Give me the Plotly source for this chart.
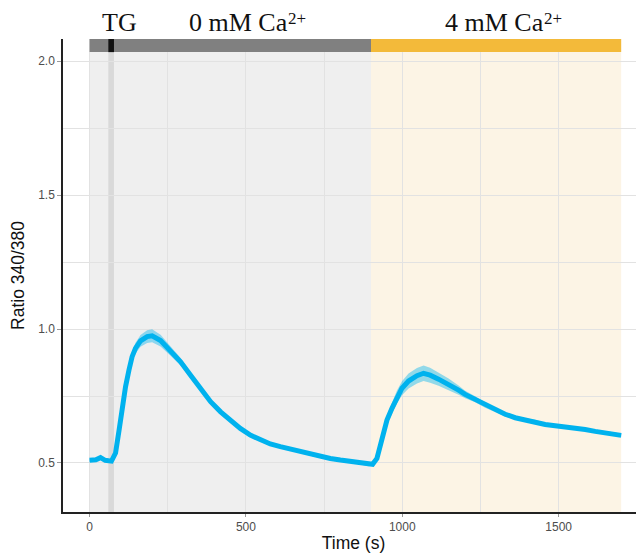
import plotly.graph_objects as go

# ---- data ----
time_s = [0, 20, 35, 50, 70, 83, 94, 104, 115, 126, 136, 147, 163, 184, 200, 227,
          259, 291, 323, 355, 387, 419, 450, 482, 514, 546, 578, 610, 642, 674, 706,
          738, 770, 802, 834, 866, 891, 905, 919, 930, 940, 951, 967, 983, 999, 1020,
          1047, 1068, 1089, 1116, 1148, 1180, 1201, 1233, 1265, 1297, 1329, 1361, 1393,
          1425, 1457, 1489, 1521, 1553, 1585, 1617, 1649, 1681, 1700]
ratio = [0.510, 0.512, 0.520, 0.510, 0.507, 0.537, 0.620, 0.710, 0.785, 0.847, 0.897,
         0.929, 0.956, 0.972, 0.975, 0.957, 0.918, 0.878, 0.828, 0.779, 0.729, 0.691,
         0.660, 0.629, 0.604, 0.585, 0.571, 0.561, 0.552, 0.542, 0.532, 0.524, 0.517,
         0.511, 0.505, 0.499, 0.493, 0.495, 0.517, 0.567, 0.617, 0.660, 0.704, 0.747,
         0.779, 0.806, 0.826, 0.835, 0.828, 0.813, 0.794, 0.772, 0.756, 0.738, 0.716,
         0.698, 0.682, 0.669, 0.660, 0.654, 0.644, 0.639, 0.635, 0.630, 0.625, 0.618,
         0.614, 0.608, 0.603]
sem = [0.005, 0.005, 0.005, 0.005, 0.005, 0.006, 0.008, 0.010, 0.012, 0.015, 0.018,
       0.020, 0.022, 0.024, 0.024, 0.022, 0.018, 0.014, 0.011, 0.009, 0.008, 0.007,
       0.006, 0.006, 0.006, 0.005, 0.005, 0.005, 0.005, 0.005, 0.005, 0.005, 0.005,
       0.005, 0.005, 0.005, 0.005, 0.005, 0.006, 0.010, 0.014, 0.018, 0.021, 0.024,
       0.026, 0.028, 0.029, 0.029, 0.028, 0.025, 0.021, 0.017, 0.014, 0.011, 0.010,
       0.009, 0.008, 0.008, 0.007, 0.007, 0.006, 0.006, 0.006, 0.006, 0.006, 0.006,
       0.006, 0.006, 0.006]

phase_labels = ["0 mM Ca", "4 mM Ca"]
phase_sup = ["2+", "2+"]
phase_start = [0, 900]
phase_end = [900, 1700]
phase_label_end_x = [636, 1454]   # where "Ca" ends and the superscript starts
tg_start, tg_end, tg_label_x = 60, 78, 96

x_ticks = [0, 500, 1000, 1500]
y_ticks = [0.5, 1.0, 1.5, 2.0]

LINE = "#00B2EE"
upper = [r + s for r, s in zip(ratio, sem)]
lower = [r - s for r, s in zip(ratio, sem)]

fig = go.Figure()
fig.add_trace(go.Scatter(
    x=time_s + time_s[::-1], y=upper + lower[::-1], fill="toself",
    fillcolor="rgba(0,178,238,0.42)", line=dict(width=0), hoverinfo="skip",
    showlegend=False))
fig.add_trace(go.Scatter(x=time_s, y=ratio, mode="lines",
                         line=dict(color=LINE, width=5), showlegend=False))

shade_cols = ["#EFEFEF", "#FCF4E5"]
bar_cols = ["#808080", "#F3BA3A"]
for s, e, sc, bc in zip(phase_start, phase_end, shade_cols, bar_cols):
    fig.add_shape(type="rect", xref="x", yref="paper", x0=s, x1=e, y0=0, y1=1,
                  fillcolor=sc, line=dict(width=0), layer="below")
    fig.add_shape(type="rect", xref="x", yref="y", x0=s, x1=e, y0=2.034, y1=2.083,
                  fillcolor=bc, line=dict(width=0), layer="above")
fig.add_shape(type="rect", xref="x", yref="paper", x0=tg_start, x1=tg_end, y0=0, y1=1,
              fillcolor="rgba(0,0,0,0.09)", line=dict(width=0), layer="below")
fig.add_shape(type="rect", xref="x", yref="y", x0=tg_start, x1=tg_end, y0=2.034, y1=2.083,
              fillcolor="#111111", line=dict(width=0), layer="above")

serif = dict(family="Liberation Serif", size=26, color="#111111")
serif_sup = dict(family="Liberation Serif", size=17, color="#111111")
fig.add_annotation(x=tg_label_x, y=1.0, xref="x", yref="paper", yanchor="bottom",
                   yshift=0, text="TG", showarrow=False, font=serif)
for lx, lab, sup in zip(phase_label_end_x, phase_labels, phase_sup):
    fig.add_annotation(x=lx, y=1.0, xref="x", yref="paper", yanchor="bottom",
                       xanchor="right", xshift=2, yshift=0, text=lab,
                       showarrow=False, font=serif)
    fig.add_annotation(x=lx, y=1.0, xref="x", yref="paper", yanchor="bottom",
                       xanchor="left", xshift=-2, yshift=9, text=sup,
                       showarrow=False, font=serif_sup)

grid = "#E2E2E2"
fig.update_xaxes(range=[-85, 1773], tickvals=x_ticks, showgrid=True, gridcolor=grid,
                 gridwidth=1, minor=dict(dtick=250, tick0=0, showgrid=True,
                                          gridcolor=grid, gridwidth=1),
                 showline=True, linecolor="#222222", linewidth=1.5,
                 ticks="outside", ticklen=3, tickcolor="#999999",
                 tickfont=dict(family="Liberation Sans", size=12, color="#4D4D4D"),
                 title=dict(text="Time (s)", standoff=4,
                            font=dict(family="Liberation Sans", size=17.5, color="#111111")),
                 zeroline=False, automargin=False)
fig.update_yaxes(range=[0.317, 2.083], tickvals=y_ticks, ticktext=["0.5", "1.0", "1.5", "2.0"],
                 showgrid=True, gridcolor=grid, gridwidth=1,
                 minor=dict(dtick=0.25, tick0=0.5, showgrid=True, gridcolor=grid, gridwidth=1),
                 showline=True, linecolor="#222222", linewidth=1.5,
                 ticks="outside", ticklen=4, tickcolor="#999999",
                 tickfont=dict(family="Liberation Sans", size=12, color="#4D4D4D"),
                 title=dict(text="Ratio 340/380", standoff=17,
                            font=dict(family="Liberation Sans", size=17.5, color="#111111")),
                 zeroline=False, automargin=False)

# page body has an 8px default margin, so the figure is sized to the visible area
fig.update_layout(width=636, height=551, margin=dict(l=55, r=0, t=31, b=47, autoexpand=False),
                  plot_bgcolor="white", paper_bgcolor="white")
fig.write_html("out.html")
